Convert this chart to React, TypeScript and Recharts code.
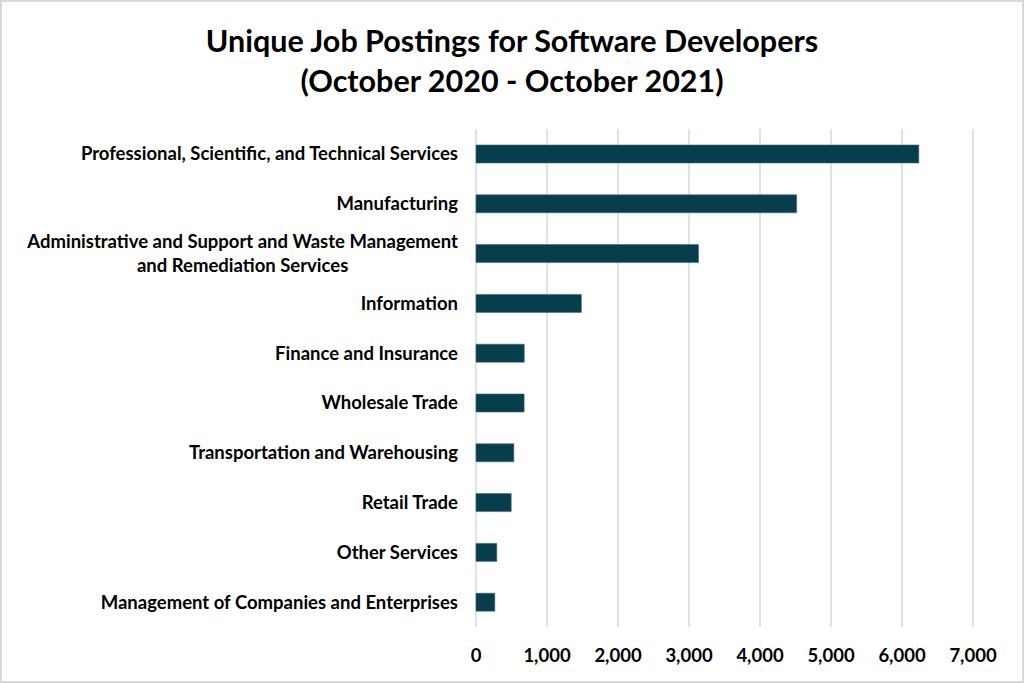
import React from 'react';
import { BarChart, Bar, XAxis, YAxis, CartesianGrid } from 'recharts';

const industries = [
  'Professional, Scientific, and Technical Services',
  'Manufacturing',
  'Administrative and Support and Waste Management and Remediation Services',
  'Information',
  'Finance and Insurance',
  'Wholesale Trade',
  'Transportation and Warehousing',
  'Retail Trade',
  'Other Services',
  'Management of Companies and Enterprises',
];

const postings = [6237, 4516, 3134, 1484, 680, 678, 533, 496, 293, 265];

const xTicks = [0, 1000, 2000, 3000, 4000, 5000, 6000, 7000];

const FONT = 'Lato, "Open Sans", sans-serif';
const LABEL_SIZE = 18.5;
const BAR_COLOR = '#063e4c';

const data = industries.map((name, i) => ({ name, postings: postings[i] }));

let ctx: CanvasRenderingContext2D | null = null;
function measure(text: string) {
  if (!ctx) ctx = document.createElement('canvas').getContext('2d');
  if (!ctx) return text.length * 9;
  ctx.font = `bold ${LABEL_SIZE}px ${FONT}`;
  return ctx.measureText(text).width;
}

function wrap(text: string, maxWidth: number) {
  const words = text.split(' ');
  const lines: string[] = [];
  let cur = '';
  for (const w of words) {
    const next = cur ? cur + ' ' + w : w;
    if (cur && measure(next) > maxWidth) {
      lines.push(cur);
      cur = w;
    } else {
      cur = next;
    }
  }
  if (cur) lines.push(cur);
  return lines;
}

function CategoryTick(props: any) {
  const { x, y, payload } = props;
  const lines = wrap(payload.value, 450);
  const right = x - 10;
  if (lines.length === 1) {
    return (
      <text x={right} y={y} dy="0.35em" textAnchor="end" fontFamily={FONT}
        fontSize={LABEL_SIZE} fontWeight="bold" fill="#000">
        {lines[0]}
      </text>
    );
  }
  const blockW = Math.max(...lines.map(measure));
  const cx = right - blockW / 2;
  const lh = 24;
  const top = y - ((lines.length - 1) * lh) / 2;
  return (
    <g>
      {lines.map((l, i) => (
        <text key={i} x={cx} y={top + i * lh} dy="0.35em" textAnchor="middle"
          fontFamily={FONT} fontSize={LABEL_SIZE} fontWeight="bold" fill="#000">
          {l}
        </text>
      ))}
    </g>
  );
}

export default function App() {
  return (
    <div
      style={{
        position: 'absolute',
        left: 0,
        top: 0,
        width: 1024,
        height: 683,
        boxSizing: 'border-box',
        border: '2px solid #d9d9d9',
        background: '#fff',
        fontFamily: FONT,
      }}
    >
      <div
        style={{
          position: 'absolute',
          left: 0,
          right: 0,
          top: 18,
          textAlign: 'center',
          fontWeight: 'bold',
          fontSize: 30.5,
          lineHeight: '40px',
          color: '#000',
        }}
      >
        Unique Job Postings for Software Developers
        <br />
        (October 2020 - October 2021)
      </div>
      <div style={{ position: 'absolute', left: -2, top: -2 }}>
        <BarChart
          width={1024}
          height={683}
          data={data}
          layout="vertical"
          margin={{ top: 129, right: 51, bottom: 0, left: 0 }}
        >
          <CartesianGrid horizontal={false} stroke="#d9d9d9" strokeWidth={1.5} />
          <XAxis
            type="number"
            domain={[0, 7000]}
            ticks={xTicks}
            height={56}
            axisLine={false}
            tickLine={false}
            tickSize={0}
            tickMargin={22}
            tickFormatter={(v: number) => v.toLocaleString('en-US')}
            tick={{ fontFamily: FONT, fontSize: LABEL_SIZE, fontWeight: 'bold', fill: '#000' }}
          />
          <YAxis
            type="category"
            dataKey="name"
            width={476}
            axisLine={false}
            tickLine={false}
            interval={0}
            tick={<CategoryTick />}
          />
          <Bar
            dataKey="postings"
            fill={BAR_COLOR}
            stroke="#3f6b76"
            strokeWidth={0.6}
            barSize={18}
            isAnimationActive={false}
          />
        </BarChart>
      </div>
    </div>
  );
}
